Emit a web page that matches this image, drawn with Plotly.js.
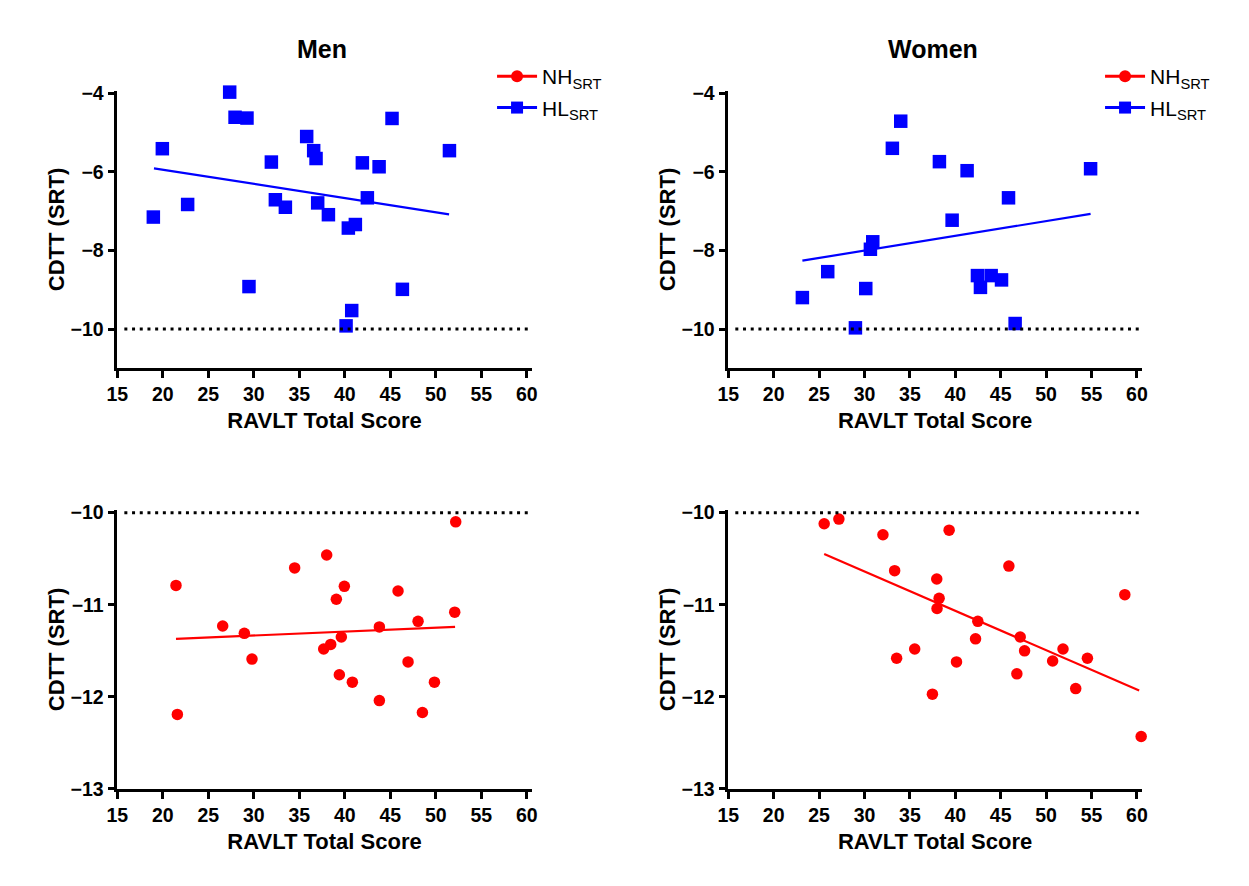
<!DOCTYPE html>
<html>
<head>
<meta charset="utf-8">
<script src="https://cdn.plot.ly/plotly-3.0.1.min.js"></script>
<style>html,body{margin:0;padding:0;background:#fff;}#chart{width:1249px;height:886px;}</style>
</head>
<body>
<div id="chart"></div>
<script>
// ---- Data ----
var menHLx = [18.96,19.95,22.73,27.35,27.94,29.25,29.47,31.93,32.37,33.47,35.81,36.58,36.84,37.02,38.2,40.14,40.39,40.76,41.16,41.93,42.48,43.77,45.19,46.33,51.5];
var menHLy = [-7.15,-5.41,-6.83,-3.97,-4.61,-4.63,-8.92,-5.75,-6.71,-6.90,-5.10,-5.46,-5.66,-6.79,-7.09,-9.92,-7.43,-9.53,-7.34,-5.77,-6.66,-5.87,-4.64,-8.99,-5.46];
var menHLfitX = [19.03, 51.46];
var menHLfitY = [-5.91, -7.08];

var womenHLx = [23.16,25.95,29.0,30.14,30.65,30.91,33.07,33.99,38.25,39.65,41.3,42.44,42.77,43.95,45.09,45.86,46.59,54.9];
var womenHLy = [-9.20,-8.54,-9.97,-8.97,-7.97,-7.78,-5.40,-4.71,-5.74,-7.23,-5.97,-8.64,-8.94,-8.64,-8.75,-6.66,-9.86,-5.92];
var womenHLfitX = [23.16, 54.9];
var womenHLfitY = [-8.26, -7.07];

var menNHx = [21.45,21.6,26.58,28.96,29.8,34.49,37.68,38.01,38.45,39.07,39.4,39.62,39.95,40.83,43.8,43.8,45.85,46.95,48.05,48.53,49.85,52.08,52.19];
var menNHy = [-10.79,-12.19,-11.23,-11.31,-11.59,-10.60,-11.48,-10.46,-11.43,-10.94,-11.76,-11.35,-10.80,-11.84,-11.24,-12.04,-10.85,-11.62,-11.18,-12.17,-11.84,-11.08,-10.10];
var menNHfitX = [21.45, 52.12];
var menNHfitY = [-11.37, -11.24];

var womenNHx = [25.56,27.18,32.03,33.32,33.54,35.53,37.48,37.96,38.22,37.99,39.32,40.13,42.23,42.48,45.9,46.78,47.15,47.63,50.72,51.86,53.26,54.55,58.67,60.47];
var womenNHy = [-10.12,-10.07,-10.24,-10.63,-11.58,-11.48,-11.97,-10.72,-10.93,-11.04,-10.19,-11.62,-11.37,-11.18,-10.58,-11.75,-11.35,-11.50,-11.61,-11.48,-11.91,-11.58,-10.89,-12.43];
var womenNHfitX = [25.56, 60.25];
var womenNHfitY = [-10.45, -11.93];

var panelTitles = ["Men", "Women"];
var legendNames = ["NH<sub>SRT</sub>", "HL<sub>SRT</sub>"];
var xTicks = [15,20,25,30,35,40,45,50,55,60];
var yTicksTop = [-10,-8,-6,-4];
var yTicksBottom = [-13,-12,-11,-10];
var xTitle = "RAVLT Total Score";
var yTitle = "CDTT (SRT)";
var refLevel = -10;

// ---- Styles ----
var RED = "#ff0000", BLUE = "#0000ff";
var FONT = "Liberation Sans, Arial, sans-serif";

function scatter(x, y, xa, ya, color, symbol, size) {
  return {x: x, y: y, xaxis: xa, yaxis: ya, type: "scatter", mode: "markers",
    marker: {color: color, symbol: symbol, size: size, line: {width: 0}},
    showlegend: false, cliponaxis: false, hoverinfo: "x+y"};
}
function fit(x, y, xa, ya, color) {
  return {x: x, y: y, xaxis: xa, yaxis: ya, type: "scatter", mode: "lines",
    line: {color: color, width: 2.2}, showlegend: false, hoverinfo: "skip"};
}
function legendTrace(name, color, symbol, size, xa, ya, leg, grp) {
  return {x: [null], y: [null], xaxis: xa, yaxis: ya, type: "scatter", mode: "lines+markers",
    name: name, legend: leg, legendgroup: grp, line: {color: color, width: 3},
    marker: {color: color, symbol: symbol, size: size}, showlegend: true};
}

var data = [
  scatter(menHLx, menHLy, "x", "y", BLUE, "square", 13.5),
  fit(menHLfitX, menHLfitY, "x", "y", BLUE),
  scatter(womenHLx, womenHLy, "x2", "y2", BLUE, "square", 13.5),
  fit(womenHLfitX, womenHLfitY, "x2", "y2", BLUE),
  scatter(menNHx, menNHy, "x3", "y3", RED, "circle", 11.5),
  fit(menNHfitX, menNHfitY, "x3", "y3", RED),
  scatter(womenNHx, womenNHy, "x4", "y4", RED, "circle", 11.5),
  fit(womenNHfitX, womenNHfitY, "x4", "y4", RED),
  legendTrace(legendNames[0], RED, "circle", 12, "x", "y", "legend", "nh1"),
  legendTrace(legendNames[1], BLUE, "square", 12, "x", "y", "legend", "hl1"),
  legendTrace(legendNames[0], RED, "circle", 12, "x2", "y2", "legend2", "nh2"),
  legendTrace(legendNames[1], BLUE, "square", 12, "x2", "y2", "legend2", "hl2")
];

function xaxis(domain, anchor) {
  return {domain: domain, anchor: anchor, range: [15, 60.55], tickvals: xTicks,
    showline: true, linewidth: 2.5, linecolor: "#000", ticks: "outside", ticklen: 7,
    tickwidth: 2.5, tickcolor: "#000", showgrid: false, zeroline: false,
    tickfont: {family: FONT, size: 19.5, weight: "bold", color: "#000"},
    title: {text: xTitle, font: {family: FONT, size: 22, weight: "bold", color: "#000"}, standoff: 9}};
}
function yaxis(domain, anchor, range, ticks) {
  return {domain: domain, anchor: anchor, range: range, tickvals: ticks,
    showline: true, linewidth: 2.5, linecolor: "#000", ticks: "outside", ticklen: 7,
    tickwidth: 2.5, tickcolor: "#000", showgrid: false, zeroline: false,
    tickfont: {family: FONT, size: 19.5, weight: "bold", color: "#000"},
    title: {text: yTitle, font: {family: FONT, size: 22, weight: "bold", color: "#000"}, standoff: 0}};
}

var xL = [0.06613, 0.42070], xR = [0.58879, 0.94260];
var yT = [0.59268, 0.93727], yB = [0.07072, 0.41700];

function refLine(xa, ya) {
  return {type: "line", xref: xa + " domain", yref: ya, x0: 0.017, x1: 1, y0: refLevel, y1: refLevel,
    line: {color: "#000", width: 3, dash: "3px,4.7px"}};
}

var legStyle = {font: {family: FONT, size: 21, color: "#000"}, bgcolor: "rgba(0,0,0,0)",
  xanchor: "left", yanchor: "top", tracegroupgap: 1, itemwidth: 40};

var layout = {
  width: 1249, height: 886,
  margin: {l: 40, r: 40, t: 40, b: 40},
  paper_bgcolor: "#fff", plot_bgcolor: "#fff",
  xaxis: xaxis(xL, "y"), yaxis: yaxis(yT, "x", [-11, -3.93], yTicksTop),
  xaxis2: xaxis(xR, "y2"), yaxis2: yaxis(yT, "x2", [-11, -3.93], yTicksTop),
  xaxis3: xaxis(xL, "y3"), yaxis3: yaxis(yB, "x3", [-13, -9.97], yTicksBottom),
  xaxis4: xaxis(xR, "y4"), yaxis4: yaxis(yB, "x4", [-13, -9.97], yTicksBottom),
  shapes: [refLine("x", "y"), refLine("x2", "y2"), refLine("x3", "y3"), refLine("x4", "y4")],
  legend: Object.assign({x: 0.3867, y: 0.980}, legStyle),
  legend2: Object.assign({x: 0.9068, y: 0.980}, legStyle),
  annotations: [
    {text: panelTitles[0], xref: "paper", yref: "paper", x: (xL[0] + 0.4166) / 2, y: 0.9888,
      xanchor: "center", yanchor: "middle", showarrow: false,
      font: {family: FONT, size: 25, weight: "bold", color: "#000"}},
    {text: panelTitles[1], xref: "paper", yref: "paper", x: (xR[0] + 0.9384) / 2, y: 0.9888,
      xanchor: "center", yanchor: "middle", showarrow: false,
      font: {family: FONT, size: 25, weight: "bold", color: "#000"}}
  ]
};

Plotly.newPlot("chart", data, layout, {displayModeBar: false, responsive: false});
</script>
</body>
</html>
